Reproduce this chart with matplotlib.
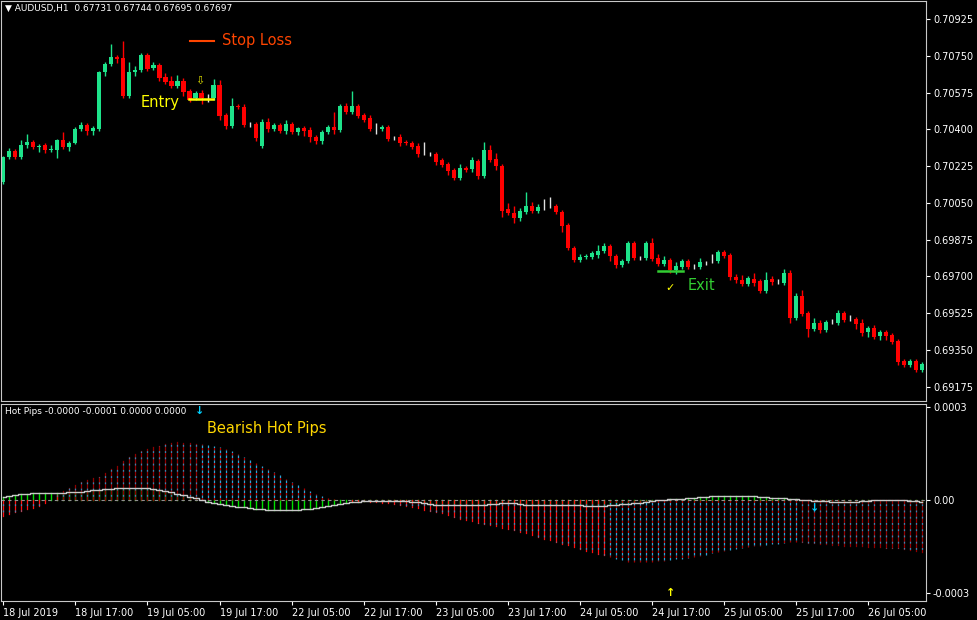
import matplotlib
matplotlib.use("Agg")
import matplotlib.pyplot as plt
from matplotlib.lines import Line2D
import numpy as np

W, H = 977, 620

opens = [0.70149,0.70268,0.70297,0.70268,0.70325,0.70340,0.70316,0.70325,0.70301,0.70301,
 0.70349,0.70316,0.70335,0.70401,0.70420,0.70392,0.70401,0.70673,0.70711,0.70744,
 0.70739,0.70558,0.70673,0.70682,0.70754,0.70692,0.70706,0.70649,0.70630,0.70606,
 0.70630,0.70582,0.70549,0.70573,0.70549,0.70549,0.70611,0.70468,0.70416,0.70511,
 0.70506,0.70425,0.70425,0.70320,0.70435,0.70401,0.70420,0.70392,0.70425,0.70387,
 0.70406,0.70397,0.70363,0.70344,0.70387,0.70411,0.70397,0.70511,0.70482,0.70511,
 0.70468,0.70454,0.70401,0.70401,0.70411,0.70359,0.70363,0.70340,0.70335,0.70320,
 0.70287,0.70282,0.70282,0.70254,0.70235,0.70206,0.70168,0.70216,0.70211,0.70249,
 0.70178,0.70301,0.70259,0.70225,0.70021,0.70002,0.69978,0.70006,0.70035,0.70011,
 0.70030,0.70035,0.70035,0.70006,0.69944,0.69835,0.69778,0.69792,0.69792,0.69802,
 0.69821,0.69845,0.69797,0.69754,0.69773,0.69859,0.69787,0.69787,0.69859,0.69787,
 0.69759,0.69778,0.69730,0.69745,0.69773,0.69745,0.69745,0.69764,0.69773,0.69773,
 0.69816,0.69802,0.69697,0.69683,0.69664,0.69687,0.69678,0.69630,0.69687,0.69673,
 0.69668,0.69716,0.69502,0.69607,0.69526,0.69449,0.69478,0.69445,0.69483,0.69478,
 0.69526,0.69497,0.69497,0.69478,0.69435,0.69454,0.69416,0.69435,0.69421,0.69392,
 0.69297,0.69278,0.69297,0.69254]
closes = [0.70268,0.70297,0.70268,0.70325,0.70340,0.70316,0.70320,0.70301,0.70306,0.70349,
 0.70316,0.70335,0.70401,0.70420,0.70392,0.70406,0.70673,0.70711,0.70744,0.70735,
 0.70558,0.70673,0.70682,0.70754,0.70687,0.70706,0.70644,0.70625,0.70606,0.70630,
 0.70578,0.70539,0.70573,0.70549,0.70549,0.70611,0.70463,0.70416,0.70511,0.70506,
 0.70420,0.70425,0.70359,0.70435,0.70401,0.70420,0.70392,0.70425,0.70387,0.70406,
 0.70392,0.70363,0.70344,0.70387,0.70411,0.70397,0.70511,0.70482,0.70511,0.70463,
 0.70444,0.70401,0.70401,0.70411,0.70354,0.70359,0.70335,0.70335,0.70316,0.70282,
 0.70287,0.70282,0.70244,0.70230,0.70201,0.70168,0.70216,0.70206,0.70254,0.70178,
 0.70301,0.70254,0.70225,0.70011,0.70002,0.69978,0.70011,0.70035,0.70011,0.70030,
 0.70030,0.70035,0.70006,0.69940,0.69835,0.69778,0.69792,0.69797,0.69811,0.69821,
 0.69845,0.69797,0.69754,0.69773,0.69859,0.69787,0.69787,0.69859,0.69783,0.69759,
 0.69778,0.69730,0.69749,0.69773,0.69745,0.69745,0.69768,0.69764,0.69773,0.69816,
 0.69797,0.69697,0.69683,0.69664,0.69692,0.69668,0.69630,0.69683,0.69673,0.69673,
 0.69716,0.69502,0.69607,0.69521,0.69449,0.69478,0.69445,0.69483,0.69483,0.69526,
 0.69492,0.69497,0.69473,0.69430,0.69454,0.69411,0.69435,0.69416,0.69387,0.69292,
 0.69278,0.69297,0.69254,0.69283]
# wick extensions in points (0.00001)
wick_up = [5,15,8,25,40,10,12,10,20,5,40,10,8,15,10,8,5,10,60,10,80,50,20,8,10,15,12,20,25,30,
 15,12,10,12,18,30,25,12,40,12,15,10,8,12,20,10,8,20,10,6,10,15,8,10,10,70,10,15,70,10,
 8,12,30,10,8,10,15,8,8,15,55,10,8,10,10,10,20,10,15,10,40,25,30,10,30,35,15,65,20,15,
 40,45,10,10,10,10,15,10,10,30,15,10,10,8,10,10,12,10,25,20,20,10,20,10,10,15,20,10,35,12,
 10,10,15,25,10,30,10,40,15,15,20,15,15,30,10,25,15,10,15,15,10,20,10,20,10,15,12,10,10,10,
 10,10,10,10]
wick_dn = [10,8,10,10,12,8,25,15,10,35,10,20,5,10,20,20,10,20,10,20,10,10,20,10,10,10,15,8,10,8,
 20,10,10,30,20,10,20,12,8,10,10,15,15,10,15,10,8,12,8,15,25,25,15,12,10,20,8,10,10,10,
 10,10,25,10,10,10,15,10,8,12,8,10,15,10,20,10,10,10,15,12,10,10,20,30,10,25,15,10,10,10,
 15,10,10,30,10,10,10,8,10,15,10,25,15,8,10,10,10,10,10,10,10,12,20,10,10,8,10,10,10,10,
 10,15,15,10,10,15,10,10,15,10,10,25,10,10,35,10,15,10,10,10,10,10,25,15,25,10,20,20,10,15,
 10,10,10,10]

# Hot Pips histogram and signal (x 1e-4)
hist = [-0.50,-0.45,-0.40,-0.35,-0.30,-0.25,-0.20,-0.10,0.00,0.15,
 0.30,0.40,0.49,0.58,0.64,0.70,0.75,0.88,1.00,1.10,
 1.25,1.40,1.48,1.57,1.65,1.70,1.75,1.82,1.85,1.86,
 1.85,1.84,1.82,1.80,1.77,1.73,1.70,1.64,1.57,1.50,
 1.40,1.30,1.20,1.10,1.00,0.90,0.80,0.69,0.58,0.49,
 0.39,0.30,0.21,0.13,0.05,0.02,0.00,-0.01,-0.02,-0.03,
 -0.04,-0.05,-0.07,-0.09,-0.11,-0.13,-0.15,-0.19,-0.23,-0.27,
 -0.31,-0.35,-0.38,-0.43,-0.49,-0.54,-0.60,-0.65,-0.69,-0.73,
 -0.77,-0.81,-0.85,-0.89,-0.93,-0.97,-1.03,-1.08,-1.14,-1.19,
 -1.25,-1.30,-1.35,-1.41,-1.46,-1.52,-1.57,-1.63,-1.68,-1.74,
 -1.79,-1.85,-1.90,-1.95,-2.00,-2.01,-2.01,-2.00,-1.99,-1.98,
 -1.96,-1.95,-1.92,-1.89,-1.86,-1.83,-1.80,-1.76,-1.72,-1.68,
 -1.64,-1.60,-1.57,-1.55,-1.52,-1.50,-1.47,-1.45,-1.43,-1.41,
 -1.39,-1.37,-1.35,-1.37,-1.38,-1.40,-1.42,-1.43,-1.45,-1.46,
 -1.47,-1.48,-1.49,-1.50,-1.51,-1.52,-1.53,-1.54,-1.54,-1.55,
 -1.58,-1.61,-1.64,-1.67]
signal = [0.10,0.13,0.15,0.18,0.20,0.23,0.23,0.23,0.23,0.23,
 0.24,0.25,0.26,0.27,0.29,0.31,0.33,0.35,0.37,0.38,
 0.38,0.38,0.38,0.38,0.38,0.35,0.33,0.30,0.25,0.20,
 0.15,0.10,0.05,0.00,-0.05,-0.09,-0.13,-0.17,-0.20,-0.22,
 -0.24,-0.26,-0.28,-0.30,-0.32,-0.32,-0.32,-0.32,-0.32,-0.31,
 -0.30,-0.28,-0.27,-0.24,-0.20,-0.17,-0.13,-0.10,-0.07,-0.05,
 -0.03,-0.03,-0.03,-0.03,-0.03,-0.03,-0.03,-0.04,-0.05,-0.06,
 -0.09,-0.12,-0.15,-0.15,-0.15,-0.15,-0.15,-0.15,-0.15,-0.15,-0.15,
 -0.13,-0.12,-0.10,-0.10,-0.10,-0.13,
 -0.17,-0.17,-0.17,-0.17,-0.17,-0.17,-0.17,-0.17,-0.17,-0.17,
 -0.18,-0.19,-0.20,-0.19,-0.17,-0.16,-0.14,-0.13,
 -0.10,-0.08,-0.05,-0.03,0.00,0.01,0.02,0.03,0.04,0.05,0.07,0.09,0.11,
 0.13,0.13,0.13,0.13,0.13,0.13,0.13,
 0.12,0.10,0.09,0.08,0.07,0.05,0.04,0.03,0.01,0.00,-0.02,-0.03,-0.04,
 -0.05,-0.05,-0.05,-0.05,-0.05,
 -0.04,-0.03,-0.01,
 0.00,0.00,0.00,0.00,0.00,
 -0.02,-0.03,-0.05]

time_labels = ["18 Jul 2019","18 Jul 17:00","19 Jul 05:00","19 Jul 17:00","22 Jul 05:00",
 "22 Jul 17:00","23 Jul 05:00","23 Jul 17:00","24 Jul 05:00","24 Jul 17:00",
 "25 Jul 05:00","25 Jul 17:00","26 Jul 05:00"]
price_ticks = [0.69175,0.69350,0.69525,0.69700,0.69875,0.70050,0.70225,0.70400,0.70575,0.70750,0.70925]

n = len(closes)
assert len(opens) == n and len(hist) == n and len(signal) == n

fig = plt.figure(figsize=(W/100, H/100), dpi=100, facecolor="black")
def fx(px): return px / W
def fy(py): return 1 - py / H

ax = fig.add_axes([fx(1), fy(401), fx(925), 400/H], facecolor="black")
ax2 = fig.add_axes([fx(1), fy(601), fx(925), 197/H], facecolor="black")

x = np.arange(n)
o = np.array(opens); c = np.array(closes)
hi = np.maximum(o, c) + np.array(wick_up) * 1e-5
lo = np.minimum(o, c) - np.array(wick_dn) * 1e-5
GREEN = "#1de38a"; RED = "#ff0000"
cols = []
for oo, cc in zip(o, c):
    if abs(cc - oo) < 0.00003:
        cols.append("#e0e0e0")
    elif cc > oo:
        cols.append(GREEN)
    else:
        cols.append(RED)
ax.vlines(x, lo, hi, colors=cols, linewidth=1)
body_b = np.minimum(o, c)
body_h = np.maximum(np.abs(c - o), 0.00002)
ax.bar(x, body_h, bottom=body_b, width=0.68, color=cols, linewidth=0)

xlim = (-2.3/6, (924-2.3)/6)
ax.set_xlim(*xlim)
ax.set_ylim(0.69107, 0.71011)
ax.yaxis.tick_right()
ax.set_yticks(price_ticks)
ax.set_yticklabels([f"{p:.5f}" for p in price_ticks])
ax.tick_params(axis="y", colors="white", labelsize=7, length=3, pad=2, labelcolor="white")
ax.set_xticks([])
for s in ax.spines.values():
    s.set_color("#c8c8c8")

# indicator
hv = np.array(hist) * 1e-4
sv = np.array(signal) * 1e-4
for i in range(n):
    if i <= 9 or 56 <= i <= 100:
        base, dotted = "#ff1010", False
    elif 10 <= i <= 32 or i >= 133:
        base, dotted = "#900000", False
    else:
        base, dotted = "#b00000", True
    ax2.plot([i, i], [0, sv[i]], color="#00e000", lw=1)
    if dotted:
        ax2.plot([i, i], [0, hv[i]], color=base, lw=0.9, ls=(0, (2, 2)))
        ax2.plot([i, i], [0, hv[i]], color="#2ea6d8", lw=0.9, ls=(2, (2, 2)))
    else:
        ax2.plot([i, i], [0, hv[i]], color=base, lw=0.9)
        ax2.plot([i, i], [0, hv[i]], color="#2a9cd0", lw=0.9, alpha=0.85, ls=(2, (1.5, 3.5)))
ax2.axhline(0, color="#909090", lw=0.8, ls=(0, (3, 3)))
ax2.plot(x, sv, color="#c8c8c8", lw=1, drawstyle="steps-mid")
ax2.set_xlim(*xlim)
ax2.set_ylim(-0.000326, 0.00031)
ax2.yaxis.tick_right()
ax2.set_yticks([0.0003, 0.0, -0.0003])
ax2.set_yticklabels(["0.0003", "0.00", "-0.0003"])
ax2.tick_params(axis="y", colors="white", labelsize=7, length=3, pad=2)
ax2.set_xticks(np.arange(0, n, 12)[:len(time_labels)])
ax2.set_xticklabels(time_labels, ha="left")
ax2.tick_params(axis="x", colors="white", labelsize=7, length=3, pad=2)
for s in ax2.spines.values():
    s.set_color("#c8c8c8")

# texts
fig.text(fx(5), fy(8), "▼ AUDUSD,H1  0.67731 0.67744 0.67695 0.67697", color="white", fontsize=6.5, va="center")
fig.text(fx(5), fy(411), "Hot Pips -0.0000 -0.0001 0.0000 0.0000", color="white", fontsize=6.5, va="center")
fig.text(fx(200), fy(411), "↓", color="#00d0ff", fontsize=8, va="center", ha="center", fontweight="bold")
fig.text(fx(207), fy(428), "Bearish Hot Pips", color="#ffd700", fontsize=10.5, va="center")
fig.text(fx(815), fy(508), "↓", color="#00d0ff", fontsize=8, va="center", ha="center", fontweight="bold")
fig.text(fx(671), fy(593), "↑", color="#ffff00", fontsize=8, va="center", ha="center", fontweight="bold")

fig.text(fx(222), fy(41), "Stop Loss", color="#ff4500", fontsize=10.5, va="center")
fig.add_artist(Line2D([fx(190), fx(214)], [fy(41), fy(41)], color="#ff4500", lw=1.5))
fig.text(fx(141), fy(103), "Entry", color="#ffff00", fontsize=10.5, va="center")
fig.add_artist(Line2D([fx(189), fx(213)], [fy(99), fy(99)], color="#ffff00", lw=1.8))
fig.text(fx(200), fy(81), "⇩", color="#e0e000", fontsize=8, va="center", ha="center")
fig.text(fx(688), fy(285), "Exit", color="#32cd32", fontsize=10.5, va="center")
fig.add_artist(Line2D([fx(658), fx(683)], [fy(271), fy(271)], color="#32cd32", lw=1.8))
fig.text(fx(670), fy(288), "✓", color="#ffff00", fontsize=8, va="center", ha="center")

fig.savefig("out.png", dpi=100, facecolor="black")
